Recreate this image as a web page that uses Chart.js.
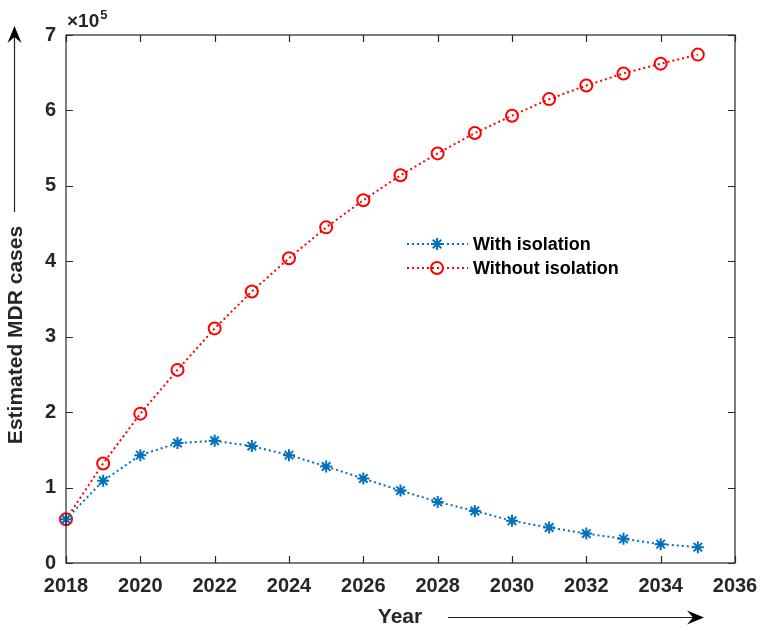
<!DOCTYPE html>
<html>
<head>
<meta charset="utf-8">
<script src="https://cdn.jsdelivr.net/npm/chart.js@4.4.1/dist/chart.umd.min.js"></script>
<style>
  html, body { margin: 0; padding: 0; background: #fff; }
  #wrap { width: 762px; height: 631px; }
</style>
</head>
<body>
<div id="wrap"><canvas id="chart" width="762" height="631"></canvas></div>
<script>
const years = [2018, 2019, 2020, 2021, 2022, 2023, 2024, 2025, 2026, 2027, 2028, 2029, 2030, 2031, 2032, 2033, 2034, 2035];
// values in units of 10^5
const withIsolation = [0.58, 1.09, 1.43, 1.59, 1.62, 1.55, 1.43, 1.28, 1.12, 0.96, 0.81, 0.69, 0.56, 0.47, 0.39, 0.32, 0.25, 0.21];
const withoutIsolation = [0.58, 1.32, 1.98, 2.56, 3.11, 3.60, 4.04, 4.45, 4.81, 5.14, 5.43, 5.70, 5.93, 6.15, 6.33, 6.49, 6.62, 6.74];
const seriesNames = ['With isolation', 'Without isolation'];

const axisColor = '#262626';
const blue = '#0072BD';
const red = '#FF0000';
const fontFamily = '"Liberation Sans", Arial, Helvetica, sans-serif';

function toPoints(vals) {
    return years.map((yr, i) => ({ x: yr, y: vals[i] }));
}

function arrow(ctx, x1, y1, x2, y2) {
    const ang = Math.atan2(y2 - y1, x2 - x1);
    const c = Math.cos(ang), s = Math.sin(ang);
    ctx.beginPath();
    ctx.moveTo(x1, y1);
    ctx.lineTo(x2 - 8 * c, y2 - 8 * s);
    ctx.stroke();
    ctx.beginPath();
    ctx.moveTo(x2, y2);
    ctx.lineTo(x2 - 17 * c + 7 * s, y2 - 17 * s - 7 * c);
    ctx.lineTo(x2 - 11 * c, y2 - 11 * s);
    ctx.lineTo(x2 - 17 * c - 7 * s, y2 - 17 * s + 7 * c);
    ctx.closePath();
    ctx.fill();
}

const decorations = {
    id: 'decorations',
    afterDraw(chart) {
        const ctx = chart.ctx;
        const a = chart.chartArea;
        const xs = chart.scales.x, ys = chart.scales.y;
        ctx.save();

        // box
        ctx.strokeStyle = axisColor;
        ctx.lineWidth = 1.2;
        ctx.strokeRect(a.left, a.top, a.right - a.left, a.bottom - a.top);

        // inward ticks on all sides
        ctx.beginPath();
        xs.ticks.forEach(t => {
            const px = Math.round(xs.getPixelForValue(t.value)) + 0.5;
            ctx.moveTo(px, a.bottom); ctx.lineTo(px, a.bottom - 7);
            ctx.moveTo(px, a.top); ctx.lineTo(px, a.top + 7);
        });
        ys.ticks.forEach(t => {
            const py = Math.round(ys.getPixelForValue(t.value)) + 0.5;
            ctx.moveTo(a.left, py); ctx.lineTo(a.left + 7, py);
            ctx.moveTo(a.right, py); ctx.lineTo(a.right - 7, py);
        });
        ctx.stroke();

        // exponent
        ctx.fillStyle = axisColor;
        ctx.textAlign = 'left';
        ctx.textBaseline = 'alphabetic';
        ctx.font = 'bold 19px ' + fontFamily;
        ctx.fillText('\u00d710', a.left + 1, 27);
        const w = ctx.measureText('\u00d710').width;
        ctx.font = 'bold 13px ' + fontFamily;
        ctx.fillText('5', a.left + 2 + w, 19);

        // y title with arrow
        ctx.fillStyle = axisColor;
        ctx.font = 'bold 21px ' + fontFamily;
        ctx.save();
        ctx.translate(22, 335);
        ctx.rotate(-Math.PI / 2);
        ctx.textAlign = 'center';
        ctx.textBaseline = 'alphabetic';
        ctx.fillText('Estimated MDR cases', 0, 0);
        ctx.restore();
        ctx.fillStyle = '#000';
        ctx.strokeStyle = '#222';
        ctx.lineWidth = 1.2;
        arrow(ctx, 14.5, 212, 14.5, 26);

        // x title with arrow
        ctx.fillStyle = axisColor;
        ctx.font = 'bold 21px ' + fontFamily;
        ctx.textAlign = 'center';
        ctx.fillText('Year', 400, 623);
        ctx.fillStyle = '#000';
        arrow(ctx, 448, 617.5, 704, 617.5);

        // legend
        const entries = [
            { name: seriesNames[0], color: blue, style: 'star', y: 244 },
            { name: seriesNames[1], color: red, style: 'circle', y: 268 }
        ];
        entries.forEach(e => {
            ctx.strokeStyle = e.color;
            ctx.lineWidth = 2;
            ctx.setLineDash([2, 3]);
            ctx.beginPath();
            ctx.moveTo(407, e.y); ctx.lineTo(468, e.y);
            ctx.stroke();
            ctx.setLineDash([]);
            ctx.fillStyle = e.style === 'circle' ? 'rgba(0,0,0,0)' : e.color;
            Chart.helpers.drawPoint(ctx, { pointStyle: e.style, radius: 6, borderWidth: 2, rotation: 0 }, 437, e.y);
            ctx.fillStyle = '#000';
            ctx.font = 'bold 18px ' + fontFamily;
            ctx.textAlign = 'left';
            ctx.textBaseline = 'middle';
            ctx.fillText(e.name, 473, e.y + 1);
        });

        ctx.restore();
    }
};

const ctx = document.getElementById('chart').getContext('2d');
new Chart(ctx, {
    type: 'line',
    data: {
        datasets: [
            {
                label: seriesNames[0],
                data: toPoints(withIsolation),
                borderColor: blue,
                backgroundColor: blue,
                borderWidth: 2,
                borderDash: [2, 3],
                pointStyle: 'star',
                pointRadius: 6,
                pointBorderWidth: 2,
                pointBorderColor: blue,
                pointBackgroundColor: blue,
                fill: false,
                clip: false,
                order: 1
            },
            {
                label: seriesNames[1],
                data: toPoints(withoutIsolation),
                borderColor: red,
                backgroundColor: 'rgba(0,0,0,0)',
                borderWidth: 2,
                borderDash: [2, 3],
                pointStyle: 'circle',
                pointRadius: 6,
                pointBorderWidth: 2,
                pointBorderColor: red,
                pointBackgroundColor: 'rgba(0,0,0,0)',
                fill: false,
                clip: false,
                order: 2
            }
        ]
    },
    options: {
        responsive: false,
        animation: false,
        layout: { padding: { top: 35, right: 27, left: 0, bottom: 0 } },
        plugins: { legend: { display: false }, tooltip: { enabled: false } },
        elements: { line: { tension: 0 } },
        scales: {
            x: {
                type: 'linear',
                min: 2018,
                max: 2036,
                border: { display: false },
                grid: { display: false, drawTicks: false },
                ticks: {
                    stepSize: 2,
                    padding: 11,
                    color: axisColor,
                    font: { family: fontFamily, size: 20, weight: 'bold' },
                    callback: v => String(v),
                    maxRotation: 0
                },
                afterFit: s => { s.height = 68; s.paddingLeft = 0; s.paddingRight = 0; }
            },
            y: {
                min: 0,
                max: 7,
                border: { display: false },
                grid: { display: false, drawTicks: false },
                ticks: {
                    stepSize: 1,
                    padding: 10,
                    color: axisColor,
                    font: { family: fontFamily, size: 20, weight: 'bold' }
                },
                afterFit: s => { s.width = 66; s.paddingTop = 0; s.paddingBottom = 0; }
            }
        }
    },
    plugins: [decorations]
});
</script>
</body>
</html>
